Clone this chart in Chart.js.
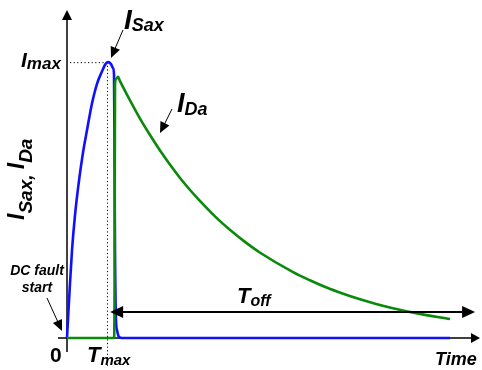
<!DOCTYPE html>
<html>
<head>
<meta charset="utf-8">
<script src="https://cdn.jsdelivr.net/npm/chart.js@4.4.0/dist/chart.umd.min.js"></script>
<style>
  html, body { margin: 0; padding: 0; background: #fff; }
  #wrap { width: 482px; height: 370px; position: relative; }
</style>
</head>
<body>
<div id="wrap"><canvas id="faultChart"></canvas></div>
<script>
// Currents (time and current in arbitrary units, 0..100)
const blueTime = [0, 0.61, 1.22, 1.95, 2.92, 3.89, 4.87, 6.08, 7.30, 8.52, 9.25, 9.98, 10.7, 11.19, 11.44, 11.56, 11.68, 11.92, 12.17, 12.65, 13.38, 93.2];
const blueCurrent = [0, 14, 26.8, 37.5, 48, 56.5, 63.4, 71.5, 77.5, 81.3, 83.3, 84.1, 83.5, 82.3, 80.2, 57.3, 26.8, 5.5, 2.4, 0.3, 0, 0];

const greenTime = [0, 11.44, 11.56, 11.68, 11.92, 12.41, 12.9, 15.3, 17.76, 20.2, 23.1, 27.5, 32.4, 36.0, 39.7, 43.3, 47.0, 55.0, 59.1, 63.3, 67.2, 71.3, 75.2, 79.3, 85.2, 93.2];
const greenCurrent = [0, 0, 11.6, 77.1, 79.0, 79.6, 78.3, 72.5, 66.9, 61.9, 56.3, 48.8, 41.7, 37.1, 32.9, 29.3, 26.0, 20.1, 17.6, 15.3, 13.5, 11.8, 10.4, 9.1, 7.5, 5.8];

const seriesNames = ['ISax', 'IDa'];

// Toff arrow span and height (data units)
const toffStart = 10.5;
const toffEnd = 99.3;
const toffLevel = 7.9;

function toPoints(xs, ys) {
    return xs.map((x, i) => ({ x: x, y: ys[i] }));
}

function font(size) {
    return 'bold italic ' + size + 'px "Liberation Sans", Arial, sans-serif';
}

// draw main text followed by a subscript
function subText(ctx, main, sub, x, y, mainSize, subSize, subDrop) {
    ctx.font = font(mainSize);
    ctx.fillText(main, x, y);
    const w = ctx.measureText(main).width;
    ctx.font = font(subSize);
    ctx.fillText(sub, x + w, y + subDrop);
    return w + ctx.measureText(sub).width;
}

function arrowHead(ctx, tx, ty, angle, len, half) {
    ctx.save();
    ctx.translate(tx, ty);
    ctx.rotate(angle);
    ctx.beginPath();
    ctx.moveTo(0, 0);
    ctx.lineTo(-len, -half);
    ctx.lineTo(-len, half);
    ctx.closePath();
    ctx.fill();
    ctx.restore();
}

function arrow(ctx, x1, y1, x2, y2, width, len, half) {
    const a = Math.atan2(y2 - y1, x2 - x1);
    ctx.lineWidth = width;
    ctx.beginPath();
    ctx.moveTo(x1, y1);
    ctx.lineTo(x2 - Math.cos(a) * len * 0.8, y2 - Math.sin(a) * len * 0.8);
    ctx.stroke();
    arrowHead(ctx, x2, y2, a, len, half);
}

// axes and dotted guides go under the curves
const backgroundPlugin = {
    id: 'background',
    beforeDatasetsDraw(chart) {
        const ctx = chart.ctx;
        const xs = chart.scales.x, ys = chart.scales.y;
        const x0 = xs.getPixelForValue(0), y0 = ys.getPixelForValue(0);
        const area = chart.chartArea;

        // peak of ISax
        let peak = 0;
        blueCurrent.forEach((v, i) => { if (v > blueCurrent[peak]) peak = i; });
        const px = xs.getPixelForValue(blueTime[peak]);
        const py = ys.getPixelForValue(blueCurrent[peak]);

        ctx.save();
        ctx.strokeStyle = '#000';
        ctx.fillStyle = '#000';

        // dotted guides
        ctx.lineWidth = 1;
        ctx.setLineDash([1.2, 2.4]);
        ctx.beginPath();
        ctx.moveTo(x0 + 3, py + 0.5);
        ctx.lineTo(px, py + 0.5);
        ctx.moveTo(px - 0.5, py);
        ctx.lineTo(px - 0.5, y0 + 28);
        ctx.stroke();
        ctx.setLineDash([]);

        // y axis
        ctx.lineWidth = 1.5;
        ctx.beginPath();
        ctx.moveTo(x0, y0 + 14);
        ctx.lineTo(x0, area.top + 8);
        ctx.stroke();
        arrowHead(ctx, x0, area.top, -Math.PI / 2, 10, 5);

        // x axis
        ctx.beginPath();
        ctx.moveTo(x0 - 9, y0);
        ctx.lineTo(area.right - 4, y0);
        ctx.stroke();
        arrowHead(ctx, area.right + 2, y0, 0, 9, 5);
        ctx.restore();
    }
};

// labels and arrows on top
const labelPlugin = {
    id: 'labels',
    afterDatasetsDraw(chart) {
        const ctx = chart.ctx;
        const xs = chart.scales.x, ys = chart.scales.y;
        ctx.save();
        ctx.fillStyle = '#000';
        ctx.strokeStyle = '#000';
        ctx.textBaseline = 'alphabetic';
        ctx.textAlign = 'left';

        // Toff double arrow
        const ty = ys.getPixelForValue(toffLevel);
        const tx1 = xs.getPixelForValue(toffStart);
        const tx2 = xs.getPixelForValue(toffEnd);
        ctx.lineWidth = 2;
        ctx.beginPath();
        ctx.moveTo(tx1 + 10, ty);
        ctx.lineTo(tx2 - 10, ty);
        ctx.stroke();
        arrowHead(ctx, tx1, ty, Math.PI, 13, 6);
        arrowHead(ctx, tx2, ty, 0, 13, 6);
        subText(ctx, 'T', 'off', 237, 303, 22, 16, 3);

        // curve name labels with pointer arrows
        subText(ctx, 'I', 'max', 21, 67, 21, 17, 2);
        subText(ctx, 'I', seriesNames[0].slice(1), 124, 29, 28, 18, 2);
        arrow(ctx, 123, 30, 111, 58, 1, 11, 5);
        subText(ctx, 'I', seriesNames[1].slice(1), 177, 112, 27, 18, 3);
        arrow(ctx, 172, 109, 160, 133, 1, 11, 5);

        // DC fault start
        ctx.font = font(14);
        ctx.textAlign = 'center';
        ctx.fillText('DC fault', 37, 275);
        ctx.fillText('start', 37, 292);
        ctx.textAlign = 'left';
        arrow(ctx, 47, 298, 62, 331, 1, 11, 5);

        // axis labels
        ctx.font = 'bold 21px "Liberation Sans", Arial, sans-serif';
        ctx.fillText('0', 50, 362);
        subText(ctx, 'T', 'max', 87, 362, 22, 15, 3);
        ctx.font = font(18);
        ctx.fillText('Time', 435, 365);

        // rotated y label
        ctx.save();
        ctx.translate(24, 220);
        ctx.rotate(-Math.PI / 2);
        let w = subText(ctx, 'I', seriesNames[0].slice(1) + ',', 0, 0, 23, 19, 8);
        ctx.font = font(19);
        w += ctx.measureText(' ').width;
        subText(ctx, 'I', seriesNames[1].slice(1), w, 0, 23, 19, 8);
        ctx.restore();

        ctx.restore();
    }
};

const ctx = document.getElementById('faultChart').getContext('2d');
const faultChart = new Chart(ctx, {
    type: 'line',
    data: {
        datasets: [{
            label: seriesNames[1],
            data: toPoints(greenTime, greenCurrent),
            borderColor: '#0a8a0a',
            borderWidth: 2.6,
            pointRadius: 0,
            cubicInterpolationMode: 'monotone',
            fill: false
        }, {
            label: seriesNames[0],
            data: toPoints(blueTime, blueCurrent),
            borderColor: '#1010ff',
            borderWidth: 2.6,
            pointRadius: 0,
            cubicInterpolationMode: 'monotone',
            fill: false
        }]
    },
    options: {
        responsive: true,
        maintainAspectRatio: false,
        animation: false,
        clip: false,
        layout: { padding: { left: 67, right: 4, top: 10, bottom: 32 } },
        plugins: { legend: { display: false }, tooltip: { enabled: false } },
        scales: {
            x: { type: 'linear', min: 0, max: 100, display: false },
            y: { type: 'linear', min: 0, max: 100, display: false }
        }
    },
    plugins: [backgroundPlugin, labelPlugin]
});
</script>
</body>
</html>
